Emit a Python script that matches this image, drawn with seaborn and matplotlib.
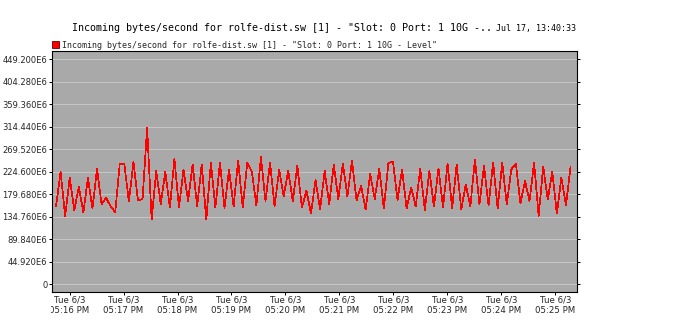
import matplotlib
matplotlib.use("Agg")
import matplotlib.pyplot as plt
import matplotlib.dates as mdates
from matplotlib.patches import Patch, Rectangle
from matplotlib.ticker import FixedLocator, FuncFormatter
import numpy as np
import pandas as pd
import seaborn as sns

# ---------------- data ----------------
title_text = 'Incoming bytes/second for rolfe-dist.sw [1] - "Slot: 0 Port: 1 10G -..'
stamp_text = "Jul 17, 13:40:33"
series_label = 'Incoming bytes/second for rolfe-dist.sw [1] - "Slot: 0 Port: 1 10G - Level"'

start_time = "2025-06-03 17:15:45"
sample_step_s = 5.06

# bytes/second, in units of 1E6
incoming_e6 = [
    156, 224, 136, 212, 148, 194, 143, 212, 151, 230,
    159, 173, 155, 144, 241, 239, 165, 244, 167, 170,
    312, 129, 226, 160, 224, 153, 250, 153, 229, 166,
    239, 156, 239, 129, 242, 153, 242, 152, 229, 155,
    247, 153, 243, 225, 157, 254, 166, 243, 155, 228,
    176, 226, 166, 236, 153, 187, 141, 208, 149, 226,
    160, 239, 170, 241, 175, 247, 167, 196, 149, 220,
    170, 230, 151, 242, 245, 168, 229, 151, 193, 155,
    231, 148, 226, 155, 231, 153, 241, 151, 239, 149,
    199, 155, 249, 159, 236, 157, 243, 151, 243, 159,
    229, 241, 161, 206, 166, 243, 136, 235, 169, 224,
    141, 213, 157, 234,
]

y_tick_values_e6 = [0, 44.92, 89.84, 134.76, 179.68, 224.60, 269.52, 314.44, 359.36, 404.28, 449.20]
x_tick_times = ["17:16", "17:17", "17:18", "17:19", "17:20", "17:21", "17:22", "17:23", "17:24", "17:25"]
x_tick_labels = ["Tue 6/3\n05:16 PM", "Tue 6/3\n05:17 PM", "Tue 6/3\n05:18 PM", "Tue 6/3\n05:19 PM",
                 "Tue 6/3\n05:20 PM", "Tue 6/3\n05:21 PM", "Tue 6/3\n05:22 PM", "Tue 6/3\n05:23 PM",
                 "Tue 6/3\n05:24 PM", "Tue 6/3\n05:25 PM"]

# ---------------- build frame ----------------
times = pd.Timestamp(start_time) + pd.to_timedelta(np.arange(len(incoming_e6)) * sample_step_s, unit="s")
df = pd.DataFrame({"time": times, "value": np.array(incoming_e6, dtype=float) * 1e6})

sns.set_theme(style="white")
plt.rcParams["font.family"] = ["DejaVu Sans"]

W, H = 686, 333
fig = plt.figure(figsize=(W / 100, H / 100), dpi=100)
fig.patch.set_facecolor("white")
L, R, T, B = 52, 577, 51, 292
ax = fig.add_axes([L / W, 1 - B / H, (R - L) / W, (B - T) / H])
ax.set_facecolor("#a9a9a9")

sns.lineplot(data=df, x="time", y="value", ax=ax, color="#ff0000", linewidth=0.5,
             antialiased=False, legend=False, zorder=3)

day = "2025-06-03 "
ax.set_xlim(pd.Timestamp(day + "17:15:40.5"), pd.Timestamp(day + "17:25:24"))
ax.set_ylim(-15.4e6, 465.2e6)

# y ticks
ax.yaxis.set_major_locator(FixedLocator([v * 1e6 for v in y_tick_values_e6]))
ax.yaxis.set_major_formatter(FuncFormatter(lambda v, p: "0" if abs(v) < 1 else f"{v / 1e6:.3f}E6"))
ax.grid(axis="y", color="#c6c6c6", linewidth=0.72, zorder=1)
ax.grid(axis="x", visible=False)

# x ticks
xt = [mdates.date2num(pd.Timestamp(day + t)) for t in x_tick_times]
ax.set_xticks(xt)
ax.set_xticklabels(x_tick_labels, fontsize=6.2, linespacing=1.15)
ax.set_xlabel("")
ax.set_ylabel("")

ax.tick_params(axis="y", which="major", direction="out", length=2.2, width=0.72, color="black",
               labelsize=6, pad=1, left=True, right=True, labelleft=True, labelright=False)
ax.tick_params(axis="x", which="major", direction="out", length=2.2, width=0.72, color="black",
               pad=0.3, bottom=True)
for sp in ax.spines.values():
    sp.set_color("black")
    sp.set_linewidth(0.8)

# the first x label is cut at the left plot edge in the original
fig.add_artist(Rectangle((0, 0), (L - 0.5) / W, 1 - (B + 1.5) / H, transform=fig.transFigure,
                         facecolor="white", edgecolor="none", zorder=10))

# title and timestamp
mono = ["DejaVu Sans Mono"]
fig.text(72.5 / W, 1 - 30.7 / H, title_text, fontsize=7.2, family=mono, ha="left", va="baseline", color="black")
fig.text(576 / W, 1 - 30.7 / H, stamp_text, fontsize=6.0, family=mono, ha="right", va="baseline", color="black")

# legend
ax.legend(handles=[Patch(facecolor="#ff0000", edgecolor="#600000", linewidth=0.6, label=series_label)],
          loc="center left", bbox_to_anchor=(52 / W, 1 - 45 / H), bbox_transform=fig.transFigure,
          frameon=False, prop={"family": mono, "size": 6.0}, handlelength=0.8, handleheight=0.8,
          handletextpad=0.35, borderpad=0, borderaxespad=0)

fig.savefig("out.png", dpi=100, facecolor="white")
